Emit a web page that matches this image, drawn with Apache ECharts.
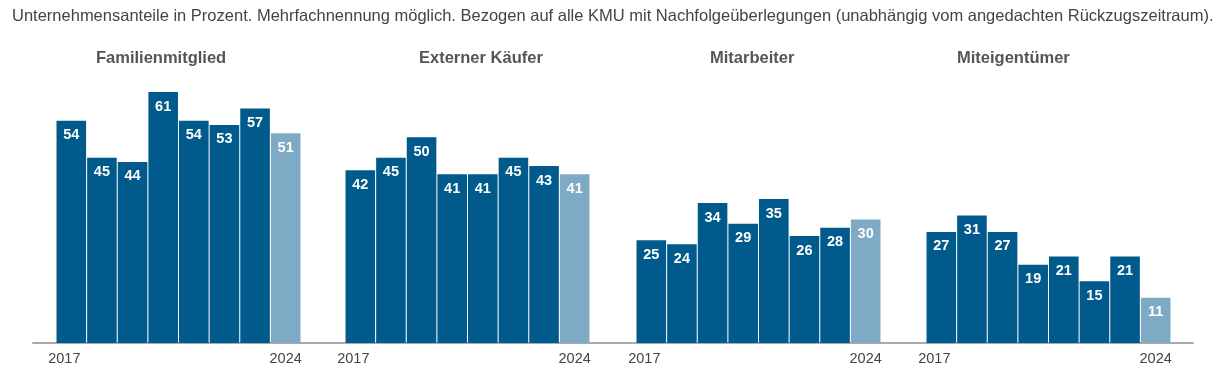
<!DOCTYPE html>
<html><head><meta charset="utf-8">
<script src="https://cdn.jsdelivr.net/npm/echarts@6/dist/echarts.min.js"></script>
<style>html,body{margin:0;padding:0;background:#fff}#c{width:1232px;height:371px}</style>
</head><body><div id="c"></div>
<script>
const years = ['2017','2018','2019','2020','2021','2022','2023','2024'];
const groupNames = ['Familienmitglied','Externer Käufer','Mitarbeiter','Miteigentümer'];
const familienmitglied = [54,45,44,61,54,53,57,51];
const externerKaeufer = [42,45,50,41,41,45,43,41];
const mitarbeiter = [25,24,34,29,35,26,28,30];
const miteigentuemer = [27,31,27,19,21,15,21,11];
const subtitle = 'Unternehmensanteile in Prozent. Mehrfachnennung möglich. Bezogen auf alle KMU mit Nachfolgeüberlegungen (unabhängig vom angedachten Rückzugszeitraum).';

const groups = [familienmitglied, externerKaeufer, mitarbeiter, miteigentuemer];
const FONT = '"Liberation Sans", Arial, sans-serif';
const DARK = '#005a8c', LIGHT = '#7eaac6';
const lefts = [56, 345, 636, 926];
const titleLefts = [91, 414, 705, 952];

const grids = [], xAxes = [], yAxes = [], series = [], titles = [];
titles.push({text: subtitle, left: 7, top: 3, textStyle:{fontFamily: FONT, fontSize: 16.5, fontWeight:'normal', color:'#444'}});
groups.forEach((vals, i) => {
  grids.push({left: lefts[i], width: 245, top: 55, bottom: 28});
  titles.push({text: groupNames[i], left: titleLefts[i], top: 45, textStyle:{fontFamily: FONT, fontSize: 16.5, fontWeight:'bold', color:'#555'}});
  xAxes.push({type:'category', gridIndex:i, data: years,
    axisLine:{show:false}, axisTick:{show:false},
    axisLabel:{interval:0, margin:8, fontFamily:FONT, fontSize:14.5, color:'#444',
      formatter:(v, idx) => idx === 0 ? '{a|' + v + '}' : (idx === years.length-1 ? v : ''),
      rich:{a:{fontFamily:FONT, fontSize:14.5, color:'#444', padding:[0,14,0,0]}}}});
  yAxes.push({type:'value', gridIndex:i, min:0, max:70, show:false, splitLine:{show:false}});
  series.push({type:'bar', xAxisIndex:i, yAxisIndex:i, barWidth: 29.6,
    data: vals.map((v, k) => ({value: v, itemStyle:{color: k === vals.length-1 ? LIGHT : DARK}})),
    label:{show:true, position:'insideTop', distance:7, color:'#fff', fontFamily:FONT, fontSize:14.5, fontWeight:'bold'},
    silent:true, animation:false});
});
// baseline axis across all groups
grids.push({left: 33, right: 39, top: 55, bottom: 28});
xAxes.push({type:'value', gridIndex:4, min:0, max:1, axisLine:{show:true, onZero:false, lineStyle:{color:'#aaa', width:2}}, axisTick:{show:false}, axisLabel:{show:false}, splitLine:{show:false}});
yAxes.push({type:'value', gridIndex:4, min:0, max:1, show:false, splitLine:{show:false}});

const chart = echarts.init(document.getElementById('c'));
chart.setOption({animation:false, title: titles, grid: grids, xAxis: xAxes, yAxis: yAxes, series: series});
</script></body></html>
